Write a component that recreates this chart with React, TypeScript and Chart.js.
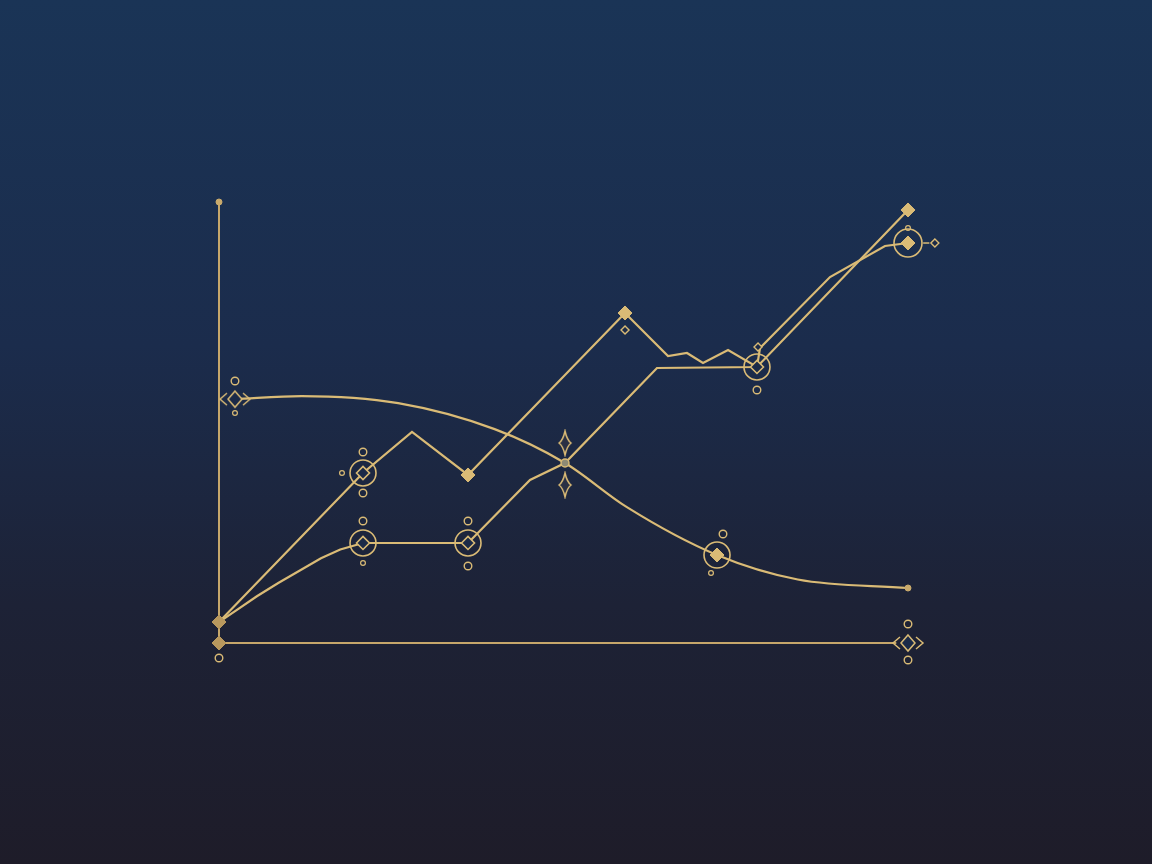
import React, { useEffect, useRef } from "react";
import { Chart, registerables } from "chart.js";

Chart.register(...registerables);

type P = { x: number; y: number };

// Axis frame (data units 0..100 on both axes)
const yAxisLine: P[] = [{ x: 0, y: 100 }, { x: 0, y: 0 }];
const xAxisLine: P[] = [{ x: 0, y: 0 }, { x: 98.3, y: 0 }];

// Series A – zigzag rising line
const seriesA: P[] = [
  { x: 0, y: 4.76 }, { x: 20.9, y: 38.55 }, { x: 28.01, y: 47.85 }, { x: 36.14, y: 38.1 },
  { x: 58.93, y: 74.83 }, { x: 65.17, y: 65.08 }, { x: 67.92, y: 65.76 }, { x: 70.25, y: 63.49 },
  { x: 73.88, y: 66.44 }, { x: 78.08, y: 62.59 }, { x: 100, y: 98.19 },
];

// Series B – stepped rising line
const seriesB: P[] = [
  { x: 0, y: 4.76 }, { x: 2.5, y: 7.4 }, { x: 5.5, y: 10.6 }, { x: 8.6, y: 13.6 },
  { x: 11.8, y: 16.5 }, { x: 14.8, y: 19.2 }, { x: 17.6, y: 21.2 }, { x: 20.9, y: 22.68 },
  { x: 36.14, y: 22.68 }, { x: 45.14, y: 36.96 }, { x: 50.22, y: 40.82 }, { x: 63.57, y: 62.36 },
  { x: 78.08, y: 62.59 }, { x: 78.52, y: 66.89 }, { x: 88.68, y: 82.99 }, { x: 96.66, y: 90.02 },
  { x: 100, y: 90.7 },
];

// Series C – smooth descending curve
const seriesC: P[] = [
  { x: 2.32, y: 55.3 }, { x: 12, y: 56.0 }, { x: 26, y: 54.4 }, { x: 40, y: 48.5 },
  { x: 50.22, y: 40.82 }, { x: 59.2, y: 30.8 }, { x: 72.28, y: 19.95 }, { x: 84, y: 14.4 },
  { x: 100, y: 12.47 },
];

// Ornaments
const rings: P[] = [
  { x: 20.9, y: 38.55 }, { x: 20.9, y: 22.68 }, { x: 36.14, y: 22.68 }, { x: 78.08, y: 62.59 },
  { x: 72.28, y: 19.95 },
];
const bigRing: P[] = [{ x: 100, y: 90.7 }];
const hollowDiamonds: P[] = [
  { x: 20.9, y: 38.55 }, { x: 20.9, y: 22.68 }, { x: 36.14, y: 22.68 }, { x: 78.08, y: 62.59 },
];
const smallHollowDiamonds: P[] = [
  { x: 58.93, y: 70.98 }, { x: 78.23, y: 67.12 }, { x: 103.9, y: 90.7 },
];
const filledDiamonds: P[] = [
  { x: 36.14, y: 38.1 }, { x: 58.93, y: 74.83 }, { x: 100, y: 98.19 }, { x: 100, y: 90.7 },
  { x: 72.28, y: 19.95 },
];
const originDiamonds: P[] = [{ x: 0, y: 4.76 }, { x: 0, y: 0 }];
const smallCircles: P[] = [
  { x: 20.9, y: 43.31 }, { x: 20.9, y: 34.01 }, { x: 20.9, y: 27.66 }, { x: 36.14, y: 27.66 },
  { x: 36.14, y: 17.46 }, { x: 78.08, y: 57.37 }, { x: 2.32, y: 59.41 }, { x: 73.15, y: 24.72 },
  { x: 0, y: -3.4 }, { x: 100, y: 4.31 }, { x: 100, y: -3.85 },
];
const tinyCircles: P[] = [
  { x: 17.85, y: 38.55 }, { x: 20.9, y: 18.14 }, { x: 100, y: 94.1 }, { x: 2.32, y: 52.15 },
  { x: 71.41, y: 15.87 },
];
const endDots: P[] = [{ x: 100, y: 12.47 }, { x: 0, y: 100 }];
const stars: P[] = [{ x: 50.22, y: 45.35 }, { x: 50.22, y: 35.83 }];
const crossing: P[] = [{ x: 50.22, y: 40.82 }];
const chevronMarks: P[] = [{ x: 2.32, y: 55.3 }, { x: 100, y: 0 }];
const dash: P[] = [{ x: 102.2, y: 90.7 }, { x: 103.1, y: 90.7 }];

const GOLD = "#dabb76";
const GOLD_DIM = "#c6a76b";
const NAVY = "#1b2a48";

function makeStar(): HTMLCanvasElement {
  const c = document.createElement("canvas");
  c.width = 16; c.height = 28;
  const g = c.getContext("2d")!;
  g.beginPath();
  g.moveTo(8, 2);
  g.quadraticCurveTo(10, 11, 14, 14);
  g.quadraticCurveTo(10, 17, 8, 26);
  g.quadraticCurveTo(6, 17, 2, 14);
  g.quadraticCurveTo(6, 11, 8, 2);
  g.closePath();
  g.fillStyle = "#2a3044";
  g.fill();
  g.strokeStyle = GOLD;
  g.lineWidth = 1.5;
  g.stroke();
  return c;
}

function makeChevron(): HTMLCanvasElement {
  const c = document.createElement("canvas");
  c.width = 36; c.height = 22;
  const g = c.getContext("2d")!;
  g.strokeStyle = GOLD;
  g.lineWidth = 1.5;
  g.fillStyle = NAVY;
  g.beginPath();
  g.moveTo(18, 3); g.lineTo(25, 11); g.lineTo(18, 19); g.lineTo(11, 11); g.closePath();
  g.fill(); g.stroke();
  g.beginPath();
  g.moveTo(10, 5); g.lineTo(3, 11); g.lineTo(10, 17);
  g.stroke();
  g.beginPath();
  g.moveTo(26, 5); g.lineTo(33, 11); g.lineTo(26, 17);
  g.stroke();
  return c;
}

// visible data window around the frame (lets ornaments outside 0..100 draw)
const X_MIN = -5, X_MAX = 110, Y_MIN = -10, Y_MAX = 110;

export default function App() {
  const ref = useRef<HTMLCanvasElement | null>(null);
  useEffect(() => {
    if (!ref.current) return;
    const star = makeStar();
    const chev = makeChevron();
    const bg = {
      id: "bg",
      beforeDraw(chart: any) {
        const { ctx, width, height } = chart;
        const grd = ctx.createLinearGradient(0, 0, 0, height);
        grd.addColorStop(0, "#1a3456");
        grd.addColorStop(0.4, "#1b2c4c");
        grd.addColorStop(0.7, "#1d2236");
        grd.addColorStop(1, "#1e1c29");
        ctx.save();
        ctx.fillStyle = grd;
        ctx.fillRect(0, 0, width, height);
        ctx.restore();
      },
    };
    const line = (data: P[], color: string, width: number, mono = false, order = 10) => ({
      data, showLine: true, borderColor: color, borderWidth: width, tension: mono ? 0.4 : 0,
      cubicInterpolationMode: mono ? "monotone" : "default",
      pointRadius: 0, fill: false, clip: false, order,
    });
    const pts = (data: P[], style: any, radius: number, bgc: string, bc: string, bw: number, order = 1) => ({
      data, showLine: false, pointStyle: style, pointRadius: radius, backgroundColor: bgc,
      borderColor: bc, pointBorderWidth: bw, clip: false, order,
    });
    // frame: x 0..100 -> px 219..908, y 0..100 -> px 643..202
    const pxX = (v: number) => 219 + v * 6.89;
    const pxY = (v: number) => 643 - v * 4.41;
    const chart = new Chart(ref.current, {
      type: "scatter",
      data: {
        datasets: [
          line(yAxisLine, GOLD_DIM, 2, false, 20),
          line(xAxisLine, GOLD_DIM, 2, false, 20),
          line(seriesC, GOLD, 2.2, true, 12),
          line(seriesB, GOLD, 2.2, false, 11),
          line(seriesA, GOLD, 2.2, false, 10),
          line(dash, GOLD, 1.5, false, 10),
          pts(rings, "circle", 13, "rgba(0,0,0,0)", GOLD, 1.6, 3),
          pts(bigRing, "circle", 14, "rgba(0,0,0,0)", GOLD, 1.6, 3),
          pts(hollowDiamonds, "rectRot", 6.5, NAVY, GOLD, 1.6, 2),
          pts(smallHollowDiamonds, "rectRot", 4, NAVY, GOLD, 1.4, 2),
          pts(filledDiamonds, "rectRot", 7, GOLD, GOLD, 1, 2),
          pts(originDiamonds, "rectRot", 7, "#b8985e", "#b8985e", 1, 2),
          pts(smallCircles, "circle", 3.8, "rgba(0,0,0,0)", GOLD, 1.4, 2),
          pts(tinyCircles, "circle", 2.4, "rgba(0,0,0,0)", GOLD, 1.2, 2),
          pts(endDots, "circle", 3, "#c9aa6c", "#c9aa6c", 1, 2),
          pts(crossing, "circle", 4, "#8e8a74", GOLD, 1.4, 1),
          pts(stars, star, 10, GOLD, GOLD, 1, 1),
          pts(chevronMarks, chev, 10, GOLD, GOLD, 1, 1),
        ] as any,
      },
      options: {
        responsive: false,
        animation: false,
        events: [],
        layout: {
          padding: {
            left: pxX(X_MIN),
            right: 1152 - pxX(X_MAX),
            top: pxY(Y_MAX),
            bottom: 864 - pxY(Y_MIN),
          },
        },
        plugins: { legend: { display: false }, tooltip: { enabled: false } },
        scales: {
          x: { type: "linear", min: X_MIN, max: X_MAX, display: false },
          y: { type: "linear", min: Y_MIN, max: Y_MAX, display: false },
        },
      },
      plugins: [bg],
    });
    return () => chart.destroy();
  }, []);
  return (
    <div style={{ position: "fixed", left: 0, top: 0, width: 1152, height: 864 }}>
      <canvas ref={ref} width={1152} height={864} style={{ display: "block" }} />
    </div>
  );
}
